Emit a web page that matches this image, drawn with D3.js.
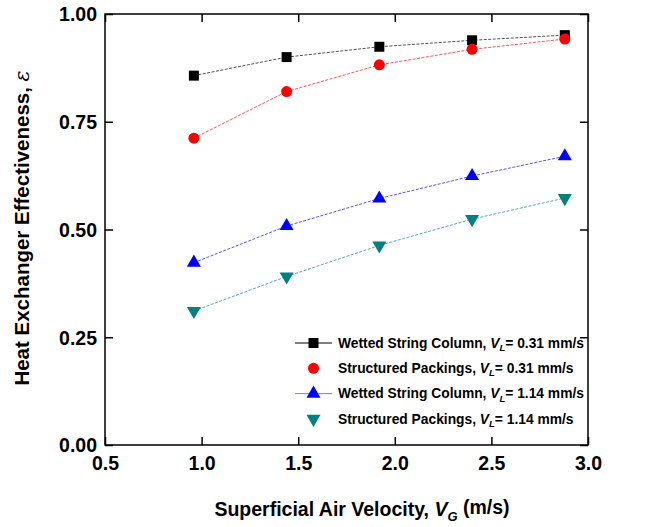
<!DOCTYPE html>
<html><head><meta charset="utf-8">
<script src="https://cdn.jsdelivr.net/npm/d3@7"></script>
<style>body{margin:0;background:#fff}svg{display:block}</style>
</head><body>
<svg id="c" width="655" height="527"></svg>
<script>
const vg = [0.96, 1.44, 1.92, 2.40, 2.88];
const wscLow = [0.857, 0.900, 0.924, 0.939, 0.951];
const spLow = [0.712, 0.820, 0.882, 0.918, 0.942];
const wscHigh = [0.423, 0.508, 0.572, 0.624, 0.670];
const spHigh = [0.311, 0.391, 0.463, 0.524, 0.573];
const xTicks = [0.5, 1.0, 1.5, 2.0, 2.5, 3.0];
const yTicks = [0.00, 0.25, 0.50, 0.75, 1.00];
const seriesNames = ["Wetted String Column, ", "Structured Packings, ", "Wetted String Column, ", "Structured Packings, "];
const seriesVL = ["= 0.31 mm/s", "= 0.31 mm/s", "= 1.14 mm/s", "= 1.14 mm/s"];

const series = [
  {name: seriesNames[0], vl: seriesVL[0], vals: wscLow, color: "#000000", sym: d3.symbolSquare, size: 100, rot: 0, legLine: true},
  {name: seriesNames[1], vl: seriesVL[1], vals: spLow, color: "#ff0000", sym: d3.symbolCircle, size: 95, rot: 0, legLine: false},
  {name: seriesNames[2], vl: seriesVL[2], vals: wscHigh, color: "#0000ff", sym: d3.symbolTriangle, size: 85, rot: 0, legLine: true},
  {name: seriesNames[3], vl: seriesVL[3], vals: spHigh, color: "#008080", sym: d3.symbolTriangle, size: 85, rot: 180, legLine: false}
];

const svg = d3.select("#c");
const L = 105, R = 588, T = 14, B = 445;
const x = d3.scaleLinear().domain([0.5, 3.0]).range([L, R]);
const y = d3.scaleLinear().domain([0, 1]).range([B, T]);
const font = "'Liberation Sans', Arial, sans-serif";

svg.append("rect").attr("x", L).attr("y", T).attr("width", R - L).attr("height", B - T)
  .attr("fill", "none").attr("stroke", "#000").attr("stroke-width", 1.5);

const tl = 8;
const axB = svg.append("g").attr("transform", `translate(0,${B})`)
  .call(d3.axisBottom(x).tickValues(xTicks).tickFormat(d3.format(".1f")).tickSizeInner(-tl).tickSizeOuter(0).tickPadding(11));
const axT = svg.append("g").attr("transform", `translate(0,${T})`)
  .call(d3.axisTop(x).tickValues(xTicks).tickFormat("").tickSizeInner(-tl).tickSizeOuter(0));
const axL = svg.append("g").attr("transform", `translate(${L},0)`)
  .call(d3.axisLeft(y).tickValues(yTicks).tickFormat(d3.format(".2f")).tickSizeInner(-tl).tickSizeOuter(0).tickPadding(8));
const axR = svg.append("g").attr("transform", `translate(${R},0)`)
  .call(d3.axisRight(y).tickValues(yTicks).tickFormat("").tickSizeInner(-tl).tickSizeOuter(0));
[axB, axT, axL, axR].forEach(g => {
  g.select(".domain").remove();
  g.selectAll(".tick line").attr("stroke", "#000").attr("stroke-width", 1.5);
  g.selectAll(".tick text").attr("font-family", font).attr("font-weight", "bold").attr("font-size", 19.5).attr("fill", "#000");
});
axL.selectAll(".tick text").attr("dy", "0.35em");
axB.selectAll(".tick text").attr("dy", "0.72em");

const line = d3.line().x((d, i) => x(vg[i])).y(d => y(d));
series.forEach(s => {
  svg.append("path").datum(s.vals).attr("d", line)
    .attr("fill", "none").attr("stroke", s.color).attr("stroke-width", 0.9)
    .attr("stroke-dasharray", "3,1.5").attr("opacity", 0.75);
  svg.selectAll(null).data(s.vals).enter().append("path")
    .attr("d", d3.symbol().type(s.sym).size(s.size))
    .attr("transform", (d, i) => `translate(${x(vg[i])},${y(d)}) rotate(${s.rot})`)
    .attr("fill", s.color);
});

const legX = 295, legY0 = 343, legDy = 25.3;
series.forEach((s, i) => {
  const yy = legY0 + i * legDy;
  if (s.legLine) {
    svg.append("line").attr("x1", legX).attr("x2", legX + 37).attr("y1", yy).attr("y2", yy)
      .attr("stroke", s.color).attr("stroke-width", 1).attr("opacity", s.color === "#0000ff" ? 0.5 : 1);
  }
  svg.append("path").attr("d", d3.symbol().type(s.sym).size(s.size))
    .attr("transform", `translate(${legX + 18.5},${yy}) rotate(${s.rot})`).attr("fill", s.color);
  const t = svg.append("text").attr("x", legX + 43).attr("y", yy).attr("dy", "0.35em")
    .attr("font-family", font).attr("font-weight", "bold").attr("font-size", 13.8).attr("fill", "#000");
  t.append("tspan").text(s.name);
  t.append("tspan").attr("font-style", "italic").text("V");
  t.append("tspan").attr("font-style", "italic").attr("font-size", 9.5).attr("dy", "0.35em").text("L");
  t.append("tspan").attr("dy", "-0.25em").text(s.vl);
});

const xt = svg.append("text").attr("x", 362).attr("y", 516).attr("text-anchor", "middle")
  .attr("font-family", font).attr("font-weight", "bold").attr("font-size", 19.5).attr("fill", "#000");
xt.append("tspan").text("Superficial Air Velocity, ");
xt.append("tspan").attr("font-style", "italic").text("V");
xt.append("tspan").attr("font-style", "italic").attr("font-size", 13).attr("dy", "0.35em").text("G");
xt.append("tspan").attr("dy", "-0.35em").text(" (m/s)");

const yt = svg.append("text").attr("transform", `translate(29,228) rotate(-90)`).attr("text-anchor", "middle")
  .attr("font-family", font).attr("font-weight", "bold").attr("font-size", 20.5).attr("fill", "#000");
yt.append("tspan").text("Heat Exchanger Effectiveness, ");
yt.append("tspan").attr("font-style", "italic").attr("font-weight", "normal").attr("font-family", "'DejaVu Serif', serif").text("ε");
</script>
</body></html>
